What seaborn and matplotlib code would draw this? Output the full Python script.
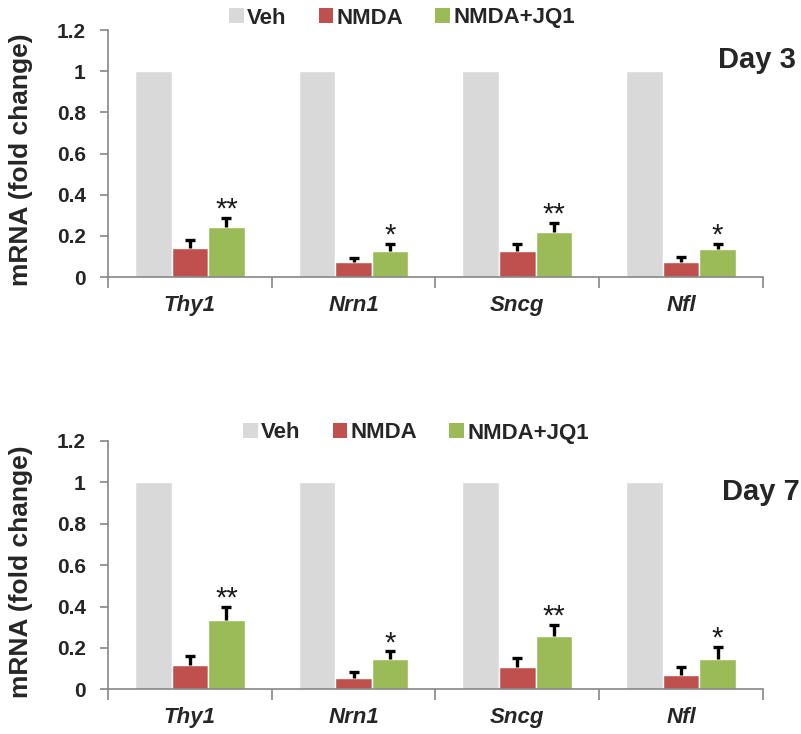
import numpy as np
import pandas as pd
import matplotlib
matplotlib.use("Agg")
import matplotlib.pyplot as plt
import seaborn as sns
from matplotlib.patches import Patch

# Datos
genes = ["Thy1", "Nrn1", "Sncg", "Nfl"]
grupos = ["Veh", "NMDA", "NMDA+JQ1"]
colores = ["#D9D9D9", "#C0504D", "#9BBB59"]

veh_d3 = [1.0, 1.0, 1.0, 1.0]
nmda_d3 = [0.14, 0.071, 0.126, 0.074]
jq1_d3 = [0.245, 0.126, 0.22, 0.135]
nmda_err_d3 = [0.04, 0.022, 0.035, 0.025]
jq1_err_d3 = [0.04, 0.035, 0.042, 0.027]
marcas_d3 = ["**", "*", "**", "*"]

veh_d7 = [1.0, 1.0, 1.0, 1.0]
nmda_d7 = [0.116, 0.056, 0.106, 0.068]
jq1_d7 = [0.333, 0.148, 0.259, 0.148]
nmda_err_d7 = [0.047, 0.028, 0.047, 0.04]
jq1_err_d7 = [0.066, 0.035, 0.052, 0.055]
marcas_d7 = ["**", "*", "**", "*"]

yticks = [0, 0.2, 0.4, 0.6, 0.8, 1.0, 1.2]
ytick_labels = ["0", "0.2", "0.4", "0.6", "0.8", "1", "1.2"]

sns.set_style("white")
plt.rcParams["font.family"] = ["Liberation Sans", "DejaVu Sans"]

AXIS_GRAY = "#868686"


def armar_df(veh, nmda, jq1):
    filas = []
    for vals, g in zip([veh, nmda, jq1], grupos):
        for gen, v in zip(genes, vals):
            filas.append({"Gen": gen, "Grupo": g, "Valor": v})
    return pd.DataFrame(filas)


def dibujar_panel(ax, veh, nmda, jq1, nmda_err, jq1_err, marcas):
    df = armar_df(veh, nmda, jq1)
    sns.barplot(data=df, x="Gen", y="Valor", hue="Grupo", hue_order=grupos,
                palette=colores, width=0.67, gap=0, saturation=1,
                errorbar=None, legend=False, ax=ax)

    # barras de error (solo hacia arriba)
    errores = [np.zeros(len(genes)), nmda_err, jq1_err]
    alturas = [veh, nmda, jq1]
    for cont, err, alt in zip(ax.containers, errores, alturas):
        xs = [p.get_x() + p.get_width() / 2 for p in cont.patches]
        if np.any(np.array(err) > 0):
            eb = ax.errorbar(xs, alt, yerr=[np.zeros(len(err)), err], fmt="none",
                             ecolor="black", elinewidth=2.4, capsize=3.7,
                             capthick=2.4, zorder=5)
            # ocultar el tope inferior
            for cl in eb[1]:
                if np.allclose(cl.get_ydata(), alt):
                    cl.set_visible(False)

    # asteriscos
    xs_jq1 = [p.get_x() + p.get_width() / 2 for p in ax.containers[2].patches]
    for x, v, e, m in zip(xs_jq1, jq1, jq1_err, marcas):
        ax.annotate(m, xy=(x, v + e), xytext=(0, 6), textcoords="offset points",
                    ha="center", va="center", fontsize=21, color="#1a1a1a")

    ax.set_ylim(0, 1.2)
    ax.set_xlim(-0.5, len(genes) - 0.5)
    ax.set_yticks(yticks)
    ax.set_yticklabels(ytick_labels, fontsize=15, fontweight="bold")
    ax.set_xticks(range(len(genes)))
    ax.set_xticklabels(genes, fontsize=16, fontweight="bold", style="italic")
    ax.set_xticks(np.arange(-0.5, len(genes)), minor=True)
    ax.tick_params(axis="x", which="major", length=0, pad=13)
    ax.tick_params(axis="x", which="minor", length=8, width=1.2,
                   color=AXIS_GRAY, direction="out", bottom=True)
    ax.tick_params(axis="y", length=6, width=1.2, color=AXIS_GRAY,
                   direction="out", left=True, pad=10)
    ax.set_xlabel("")
    ax.set_ylabel("mRNA (fold change)", fontsize=19, fontweight="bold")
    ax.yaxis.set_label_coords(-0.1145, 0.474)
    for s in ["top", "right"]:
        ax.spines[s].set_visible(False)
    for s in ["left", "bottom"]:
        ax.spines[s].set_color(AXIS_GRAY)
        ax.spines[s].set_linewidth(1.2)


fig = plt.figure(figsize=(8.01, 7.34), dpi=100)
ax1 = fig.add_axes([0.1348, 0.6226, 0.8177, 0.3365])
ax2 = fig.add_axes([0.1348, 0.0609, 0.8177, 0.3383])

dibujar_panel(ax1, veh_d3, nmda_d3, jq1_d3, nmda_err_d3, jq1_err_d3, marcas_d3)
dibujar_panel(ax2, veh_d7, nmda_d7, jq1_d7, nmda_err_d7, jq1_err_d7, marcas_d7)

# leyendas y etiquetas de dia
handles = [Patch(facecolor=c, edgecolor="none") for c in colores]
for x_leg, y_leg, x_dia, y_dia, dia in [(402 / 801, 1 - 18 / 734, 757 / 801, 1 - 60 / 734, "Day 3"),
                                        (416 / 801, 1 - 433 / 734, 761 / 801, 1 - 492 / 734, "Day 7")]:
    fig.legend(handles, grupos, loc="center", bbox_to_anchor=(x_leg, y_leg),
               ncol=3, frameon=False, handlelength=0.65, handleheight=0.65,
               handletextpad=0.15, columnspacing=1.45, borderpad=0,
               prop={"size": 16, "weight": "bold"})
    fig.text(x_dia, y_dia, dia, ha="center", va="center",
             fontsize=21, fontweight="bold")

fig.savefig("out.png", dpi=100)
